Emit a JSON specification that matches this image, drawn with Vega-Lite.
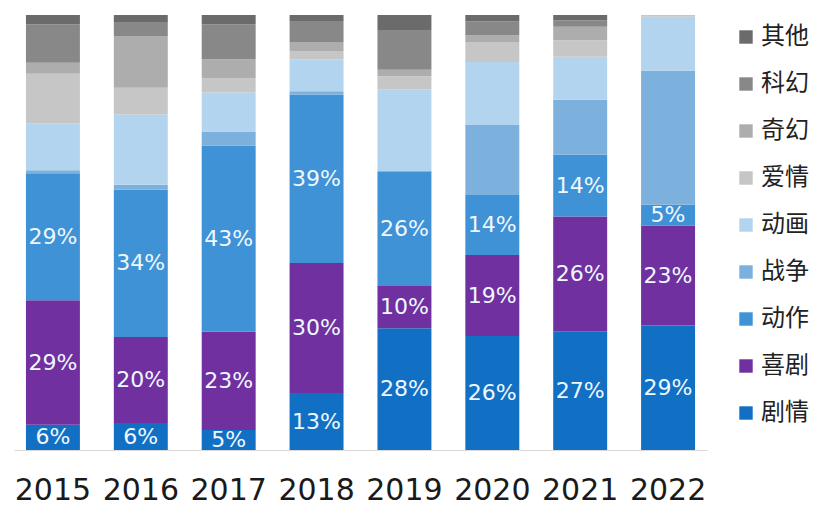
{
  "$schema": "https://vega.github.io/schema/vega-lite/v6.json",
  "autosize": "none",
  "width": 693,
  "height": 435,
  "padding": {"left": 14, "top": 15, "right": 116, "bottom": 55},
  "background": "white",
  "config": {"view": {"stroke": null}},
  "datasets": {
    "genres": [
      {"genre": "其他", "rank": 9},
      {"genre": "科幻", "rank": 8},
      {"genre": "奇幻", "rank": 7},
      {"genre": "爱情", "rank": 6},
      {"genre": "动画", "rank": 5},
      {"genre": "战争", "rank": 4},
      {"genre": "动作", "rank": 3},
      {"genre": "喜剧", "rank": 2},
      {"genre": "剧情", "rank": 1}
    ],
    "shares": [
      {"year": "2015", "genre": "剧情", "share": 0.058},
      {"year": "2015", "genre": "喜剧", "share": 0.286},
      {"year": "2015", "genre": "动作", "share": 0.292},
      {"year": "2015", "genre": "战争", "share": 0.007},
      {"year": "2015", "genre": "动画", "share": 0.108},
      {"year": "2015", "genre": "爱情", "share": 0.114},
      {"year": "2015", "genre": "奇幻", "share": 0.025},
      {"year": "2015", "genre": "科幻", "share": 0.089},
      {"year": "2015", "genre": "其他", "share": 0.021},
      {"year": "2016", "genre": "剧情", "share": 0.062},
      {"year": "2016", "genre": "喜剧", "share": 0.198},
      {"year": "2016", "genre": "动作", "share": 0.338},
      {"year": "2016", "genre": "战争", "share": 0.012},
      {"year": "2016", "genre": "动画", "share": 0.161},
      {"year": "2016", "genre": "爱情", "share": 0.062},
      {"year": "2016", "genre": "奇幻", "share": 0.119},
      {"year": "2016", "genre": "科幻", "share": 0.030},
      {"year": "2016", "genre": "其他", "share": 0.018},
      {"year": "2017", "genre": "剧情", "share": 0.046},
      {"year": "2017", "genre": "喜剧", "share": 0.226},
      {"year": "2017", "genre": "动作", "share": 0.428},
      {"year": "2017", "genre": "战争", "share": 0.032},
      {"year": "2017", "genre": "动画", "share": 0.090},
      {"year": "2017", "genre": "爱情", "share": 0.032},
      {"year": "2017", "genre": "奇幻", "share": 0.044},
      {"year": "2017", "genre": "科幻", "share": 0.080},
      {"year": "2017", "genre": "其他", "share": 0.022},
      {"year": "2018", "genre": "剧情", "share": 0.131},
      {"year": "2018", "genre": "喜剧", "share": 0.299},
      {"year": "2018", "genre": "动作", "share": 0.387},
      {"year": "2018", "genre": "战争", "share": 0.008},
      {"year": "2018", "genre": "动画", "share": 0.073},
      {"year": "2018", "genre": "爱情", "share": 0.019},
      {"year": "2018", "genre": "奇幻", "share": 0.021},
      {"year": "2018", "genre": "科幻", "share": 0.048},
      {"year": "2018", "genre": "其他", "share": 0.014},
      {"year": "2019", "genre": "剧情", "share": 0.280},
      {"year": "2019", "genre": "喜剧", "share": 0.097},
      {"year": "2019", "genre": "动作", "share": 0.264},
      {"year": "2019", "genre": "动画", "share": 0.188},
      {"year": "2019", "genre": "爱情", "share": 0.030},
      {"year": "2019", "genre": "奇幻", "share": 0.015},
      {"year": "2019", "genre": "科幻", "share": 0.090},
      {"year": "2019", "genre": "其他", "share": 0.036},
      {"year": "2020", "genre": "剧情", "share": 0.262},
      {"year": "2020", "genre": "喜剧", "share": 0.186},
      {"year": "2020", "genre": "动作", "share": 0.138},
      {"year": "2020", "genre": "战争", "share": 0.161},
      {"year": "2020", "genre": "动画", "share": 0.145},
      {"year": "2020", "genre": "爱情", "share": 0.046},
      {"year": "2020", "genre": "奇幻", "share": 0.015},
      {"year": "2020", "genre": "科幻", "share": 0.032},
      {"year": "2020", "genre": "其他", "share": 0.015},
      {"year": "2021", "genre": "剧情", "share": 0.273},
      {"year": "2021", "genre": "喜剧", "share": 0.264},
      {"year": "2021", "genre": "动作", "share": 0.142},
      {"year": "2021", "genre": "战争", "share": 0.126},
      {"year": "2021", "genre": "动画", "share": 0.099},
      {"year": "2021", "genre": "爱情", "share": 0.038},
      {"year": "2021", "genre": "奇幻", "share": 0.031},
      {"year": "2021", "genre": "科幻", "share": 0.015},
      {"year": "2021", "genre": "其他", "share": 0.012},
      {"year": "2022", "genre": "剧情", "share": 0.286},
      {"year": "2022", "genre": "喜剧", "share": 0.230},
      {"year": "2022", "genre": "动作", "share": 0.048},
      {"year": "2022", "genre": "战争", "share": 0.308},
      {"year": "2022", "genre": "动画", "share": 0.124},
      {"year": "2022", "genre": "爱情", "share": 0.004}
    ]
  },
  "data": {"name": "shares"},
  "transform": [
    {"lookup": "genre", "from": {"data": {"name": "genres"}, "key": "genre", "fields": ["rank"]}},
    {"stack": "share", "groupby": ["year"], "sort": [{"field": "rank", "order": "ascending"}], "offset": "normalize", "as": ["y0", "y1"]}
  ],
  "encoding": {
    "x": {
      "field": "year",
      "type": "nominal",
      "scale": {"paddingInner": 0.386, "paddingOuter": 0.136},
      "axis": {
        "title": null,
        "labelAngle": 0,
        "ticks": false,
        "domainColor": "#d9d9d9",
        "domainWidth": 1,
        "labelFont": "DejaVu Sans",
        "labelFontSize": 30,
        "labelColor": "#1a1a1a",
        "labelPadding": 25
      }
    }
  },
  "layer": [
    {
      "mark": {"type": "bar"},
      "encoding": {
        "y": {"field": "y0", "type": "quantitative", "scale": {"domain": [0, 1], "nice": false}, "axis": null},
        "y2": {"field": "y1"},
        "color": {
          "field": "genre",
          "type": "nominal",
          "scale": {
            "domain": ["其他", "科幻", "奇幻", "爱情", "动画", "战争", "动作", "喜剧", "剧情"],
            "range": ["#6b6b6b", "#888888", "#adadad", "#c6c6c6", "#b3d4ef", "#7cb1de", "#3f92d6", "#7030a0", "#1170c4"]
          },
          "legend": {
            "title": null,
            "orient": "none",
            "legendX": 720,
            "legendY": 10,
            "symbolType": "square",
            "symbolSize": 180,
            "symbolStrokeWidth": 0,
            "labelFont": "Noto Sans CJK SC",
            "labelFontSize": 24,
            "labelColor": "#222222",
            "labelOffset": 3,
            "rowPadding": 23,
            "padding": 0
          }
        }
      }
    },
    {
      "transform": [
        {"filter": {"field": "genre", "oneOf": ["剧情", "喜剧", "动作"]}},
        {"fold": ["y0", "y1"], "as": ["edge", "pos"]},
        {"aggregate": [{"op": "mean", "field": "pos", "as": "mid"}], "groupby": ["year", "genre", "share"]}
      ],
      "mark": {"type": "text", "font": "DejaVu Sans", "fontSize": 22, "color": "#eef8ff", "baseline": "middle", "align": "center"},
      "encoding": {
        "y": {"field": "mid", "type": "quantitative", "scale": {"domain": [0, 1], "nice": false}, "axis": null},
        "text": {"field": "share", "type": "quantitative", "format": ".0%"}
      }
    }
  ]
}
